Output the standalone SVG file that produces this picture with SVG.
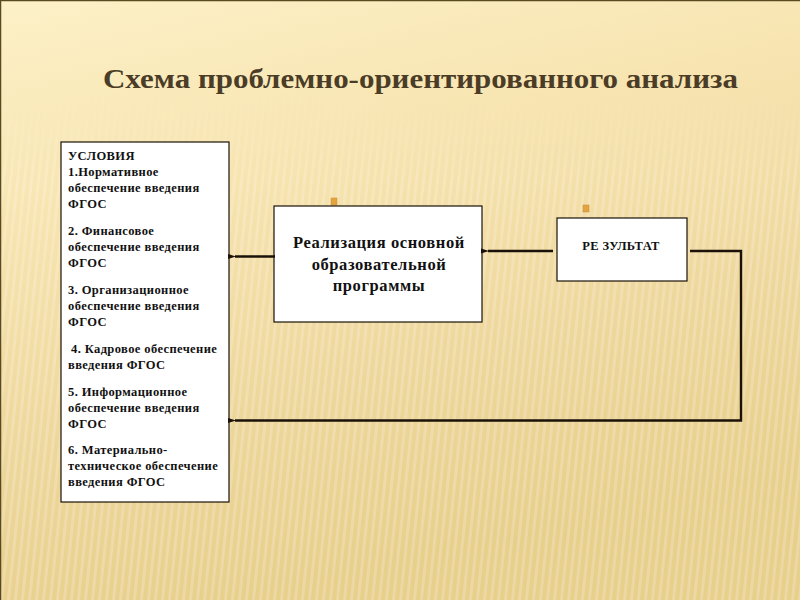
<svg xmlns="http://www.w3.org/2000/svg" width="800" height="600" viewBox="0 0 800 600">
<defs>
<linearGradient id="bg" x1="0" y1="0" x2="0.3" y2="1">
<stop offset="0" stop-color="#fdf1c8"/>
<stop offset="0.35" stop-color="#f7e4b0"/>
<stop offset="0.7" stop-color="#eed79c"/>
<stop offset="1" stop-color="#e8cf8c"/>
</linearGradient>
<pattern id="stripes" width="7" height="600" patternUnits="userSpaceOnUse" patternTransform="skewX(-6)">
<rect x="0" y="0" width="3" height="600" fill="#ffffff" opacity="0.2"/>
</pattern>
<linearGradient id="fade" x1="0" y1="0" x2="0" y2="1">
<stop offset="0" stop-color="#fff" stop-opacity="0"/>
<stop offset="0.15" stop-color="#fff" stop-opacity="0"/>
<stop offset="0.3" stop-color="#fff" stop-opacity="1"/>
<stop offset="1" stop-color="#fff" stop-opacity="1"/>
</linearGradient>
<mask id="m"><rect x="0" y="0" width="800" height="600" fill="url(#fade)"/></mask>
<marker id="arr" markerWidth="8" markerHeight="8" refX="1" refY="4" orient="auto" markerUnits="userSpaceOnUse">
<path d="M8,1.5 L0,4 L8,6.5 Z" fill="#1a1208"/>
</marker>
<style>
.box{fill:#ffffff;stroke:#1a1208;stroke-width:1.2}
.lt{font-family:"Liberation Serif","DejaVu Serif",serif;font-weight:bold;font-size:12.5px;fill:#111;letter-spacing:0.4px}
.mt{font-family:"Liberation Serif","DejaVu Serif",serif;font-weight:bold;font-size:16.5px;fill:#111;text-anchor:middle;letter-spacing:0.6px}
.con{fill:none;stroke:#1a1208;stroke-width:2.4}
.dot{fill:#e3a440;stroke:#c88a30;stroke-width:0.5}
</style>
</defs>
<rect x="0" y="0" width="800" height="600" fill="url(#bg)"/>
<rect x="0" y="0" width="800" height="600" fill="url(#stripes)" mask="url(#m)"/>
<path d="M0.5,600 L0.5,0.5 L800,0.5" fill="none" stroke="#5a4a20" stroke-width="1.5"/>

<text x="103" y="88" font-family="'Liberation Serif','DejaVu Serif',serif" font-weight="bold" font-size="27" fill="#4a3c26" textLength="635" lengthAdjust="spacingAndGlyphs">Схема проблемно-ориентированного анализа</text>

<g id="usloviya">
<rect class="box" x="61" y="142" width="168" height="360"/>
<text class="lt" x="68" y="160">УСЛОВИЯ</text>
<text class="lt" x="68" y="176">1.Нормативное</text>
<text class="lt" x="68" y="192">обеспечение введения</text>
<text class="lt" x="68" y="208">ФГОС</text>
<text class="lt" x="68" y="235">2. Финансовое</text>
<text class="lt" x="68" y="251">обеспечение введения</text>
<text class="lt" x="68" y="267">ФГОС</text>
<text class="lt" x="68" y="294">3. Организационное</text>
<text class="lt" x="68" y="310">обеспечение введения</text>
<text class="lt" x="68" y="326">ФГОС</text>
<text class="lt" x="71" y="353">4. Кадровое обеспечение</text>
<text class="lt" x="68" y="369">введения ФГОС</text>
<text class="lt" x="68" y="396">5. Информационное</text>
<text class="lt" x="68" y="412">обеспечение введения</text>
<text class="lt" x="68" y="428">ФГОС</text>
<text class="lt" x="68" y="454">6. Материально-</text>
<text class="lt" x="68" y="470">техническое обеспечение</text>
<text class="lt" x="68" y="486">введения ФГОС</text>
</g>

<g id="realizatsiya">
<rect class="dot" x="331" y="198" width="6" height="7"/>
<rect class="box" x="274" y="206" width="208" height="116"/>
<text class="mt" x="379" y="248">Реализация основной</text>
<text class="mt" x="379" y="270">образовательной</text>
<text class="mt" x="379" y="291">программы</text>
</g>

<g id="rezultat">
<rect class="dot" x="583" y="205" width="6" height="7"/>
<rect class="box" x="557" y="218" width="130" height="63"/>
<text class="lt" x="621" y="250" text-anchor="middle" letter-spacing="0px" font-size="12px">РЕ ЗУЛЬТАТ</text>
</g>

<g id="connectors">
<path class="con" d="M553,251 L488,251" marker-end="url(#arr)"/>
<path class="con" d="M275,256.5 L235,256.5" marker-end="url(#arr)"/>
<path class="con" d="M690,251 L741,251 L741,420.5 L235,420.5" marker-end="url(#arr)"/>
</g>
</svg>
